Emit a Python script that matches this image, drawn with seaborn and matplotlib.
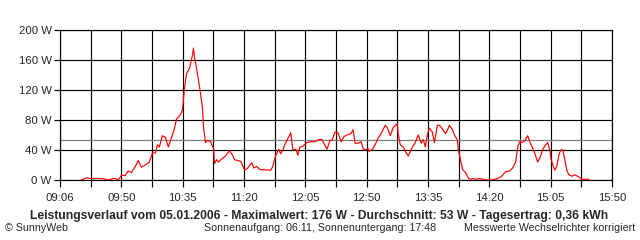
import numpy as np
import pandas as pd
import matplotlib
matplotlib.use("Agg")
import matplotlib.pyplot as plt
import seaborn as sns

# minutes after 09:06
minutes = [15.4, 16.9, 19.8, 22.0, 25.7, 29.4, 33.8, 35.3, 38.9, 40.4, 42.6, 44.8, 47.7, 49.9,
           52.2, 55.1, 57.3, 59.5, 62.4, 65.4, 67.6, 69.8, 71.3, 72.7, 74.9, 77.1, 79.3, 83.7,
           85.2, 88.1, 89.6, 91.1, 92.6, 94.8, 97.0, 97.7, 98.4, 100.6, 102.8, 104.3, 105.0,
           106.5, 108.0, 110.2, 112.4, 113.1, 114.6, 116.1, 118.3, 120.5, 124.1, 126.3, 127.8,
           132.2, 135.2, 137.4, 140.3, 141.8, 144.0, 146.2, 154.3, 155.7, 157.9, 160.1, 161.6,
           163.1, 164.5, 167.5, 168.9, 170.4, 172.6, 174.1, 175.6, 177.8, 180.7, 183.6, 186.6,
           189.5, 191.7, 195.4, 197.6, 199.1, 201.3, 203.5, 205.7, 207.9, 210.1, 213.0, 214.5,
           216.0, 218.2, 220.4, 221.8, 223.3, 225.5, 226.2, 229.2, 230.6, 232.9, 235.1, 238.0,
           239.5, 241.7, 243.9, 246.8, 247.5, 249.0, 251.2, 253.4, 254.9, 257.1, 260.0, 262.2,
           264.4, 265.9, 267.4, 268.8, 270.3, 272.5, 274.0, 276.2, 277.7, 279.9, 282.1, 283.5,
           285.0, 287.2, 288.7, 290.9, 291.6, 293.1, 294.6, 296.8, 299.0, 300.4, 302.6, 304.8,
           307.0, 310.0, 311.4, 315.9, 318.1, 320.3, 323.2, 326.1, 329.1, 331.3, 333.5, 335.0,
           336.4, 337.9, 340.1, 341.6, 342.3, 343.8, 346.0, 347.4, 349.6, 351.8, 353.3, 355.5,
           357.0, 358.5, 359.2, 360.7, 362.1, 363.6, 365.1, 366.5, 368.0, 369.5, 370.9, 372.4,
           374.6, 376.8, 379.8, 382.0, 387.1]
power_w = [0, 1, 3, 2, 2, 2, 1, 0, 2, 2, 0, 6, 6, 12,
           10, 18, 26, 17, 20, 24, 36, 36, 47, 44, 59, 57, 44, 68,
           81, 87, 93, 122, 142, 149, 167, 176, 164, 142, 116, 96, 71,
           50, 53, 51, 42, 22, 27, 24, 28, 31, 39, 33, 27,
           25, 13, 16, 23, 16, 18, 14, 13, 18, 33, 41, 35,
           40, 47, 58, 63, 40, 41, 33, 44, 45, 50, 51, 51,
           54, 54, 41, 53, 53, 64, 63, 51, 58, 60, 62, 67,
           49, 49, 51, 42, 40, 42, 38, 42, 47, 56, 62, 73,
           70, 59, 70, 75, 62, 47, 44, 36, 32, 41, 50, 60,
           49, 54, 44, 60, 69, 64, 50, 73, 73, 68, 62, 66,
           73, 67, 60, 53, 40, 27, 14, 10, 2, 1, 2, 1,
           2, 1, 0, 0, 1, 2, 5, 11, 12, 16, 24, 44,
           51, 50, 52, 57, 59, 51, 42, 36, 24, 32, 41, 47,
           50, 40, 29, 20, 13, 18, 33, 40, 40, 27, 13, 7,
           5, 7, 4, 1, 1]

tick_labels = ["09:06", "09:50", "10:35", "11:20", "12:05", "12:50", "13:35", "14:20", "15:05", "15:50"]
y_ticks = [0, 40, 80, 120, 160, 200]
y_labels = ["0 W", "40 W", "80 W", "120 W", "160 W", "200 W"]
average_w = 53
span_min = 404

title_text = "Leistungsverlauf vom 05.01.2006 - Maximalwert: 176 W - Durchschnitt: 53 W - Tagesertrag: 0,36 kWh"
left_note = "© SunnyWeb"
mid_note = "Sonnenaufgang: 06:11, Sonnenuntergang: 17:48"
right_note = "Messwerte Wechselrichter korrigiert"

sns.set_style("white")
plt.rcParams['font.family'] = ['Liberation Sans', 'DejaVu Sans']

fig = plt.figure(figsize=(6.4, 2.4), dpi=100)
ax = fig.add_axes([60/640, 1 - 180/240, 552/640, 150/240])

df = pd.DataFrame({"t": minutes, "p": power_w})
ax.axhline(average_w, color="#808080", lw=0.9, zorder=1)
sns.lineplot(data=df, x="t", y="p", ax=ax, color="#ff0000", lw=0.85, zorder=3)

ax.set_xlim(0, span_min)
ax.set_ylim(0, 200)
grid_pos = np.linspace(0, span_min, 19)
ax.set_xticks(grid_pos)
ax.set_xticklabels([tick_labels[i // 2] if i % 2 == 0 else "" for i in range(19)])
ax.set_yticks(y_ticks)
ax.set_yticklabels(y_labels)
ax.grid(True, color="black", lw=0.85, zorder=0)
ax.tick_params(axis="x", length=5, width=0.85, color="black", labelsize=8.2, pad=4.5, bottom=True)
ax.tick_params(axis="y", length=4, width=0.85, color="black", labelsize=8.2, pad=2, left=True)
for s in ax.spines.values():
    s.set_color("black")
    s.set_linewidth(0.85)
ax.set_xlabel("")
ax.set_ylabel("")

fig.text(319/640, 1 - 216.5/240, title_text, ha="center", va="center", fontsize=8.7, fontweight="bold")
fig.text(5/640, 1 - 228/240, left_note, ha="left", va="center", fontsize=7.7)
fig.text(320/640, 1 - 228/240, mid_note, ha="center", va="center", fontsize=7.7)
fig.text(635/640, 1 - 228/240, right_note, ha="right", va="center", fontsize=7.7)

fig.savefig("out.png", dpi=100, facecolor="white")
